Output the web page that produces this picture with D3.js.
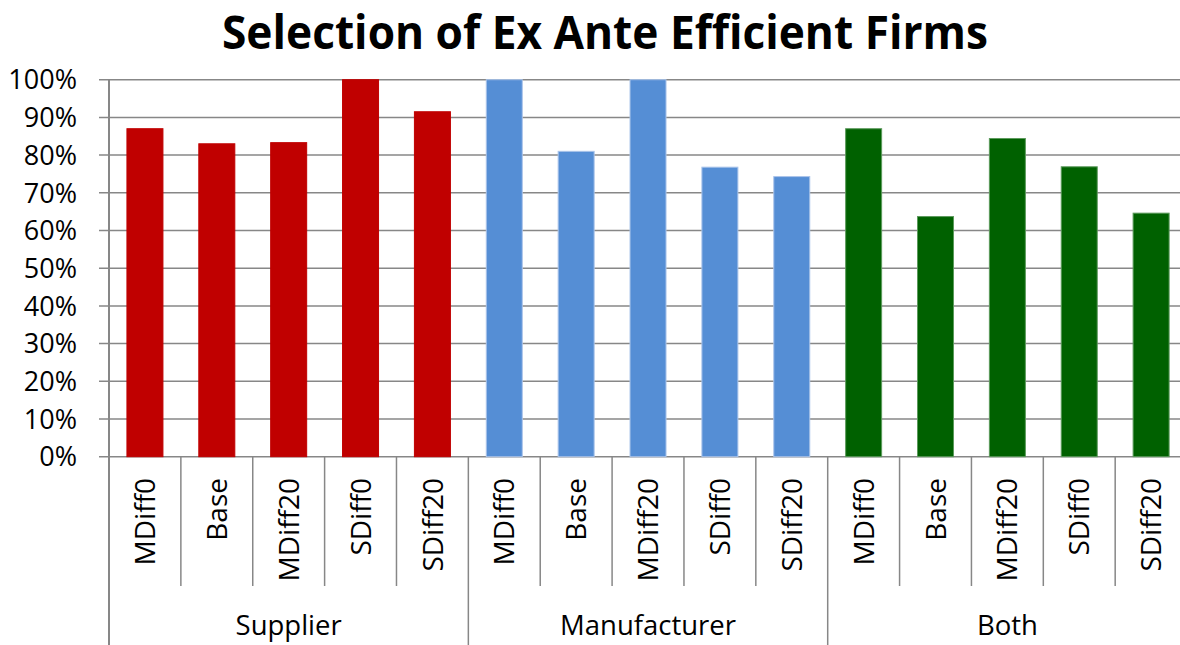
<!DOCTYPE html>
<html>
<head>
<meta charset="utf-8">
<script src="https://cdn.jsdelivr.net/npm/d3@7"></script>
<style>
  html, body { margin: 0; padding: 0; background: #fff; }
  svg { display: block; }
  text { font-family: "Open Sans", "Liberation Sans", sans-serif; fill: #000; }
</style>
</head>
<body>
<svg id="chart" width="1180" height="645"></svg>
<script>
const title = "Selection of Ex Ante Efficient Firms";
const groups = ["Supplier", "Manufacturer", "Both"];
const scenarios = ["MDiff0", "Base", "MDiff20", "SDiff0", "SDiff20"];
const supplier = [0.870, 0.830, 0.833, 1.000, 0.915];
const manufacturer = [1.000, 0.810, 1.000, 0.768, 0.743];
const both = [0.870, 0.637, 0.844, 0.769, 0.646];
const groupColors = ["#c00000", "#558ed5", "#006100"];
const groupStrokes = ["#c00000", "#aac4ea", "#5c9a5c"];
const yTicks = [0, 0.1, 0.2, 0.3, 0.4, 0.5, 0.6, 0.7, 0.8, 0.9, 1.0];

const seriesByGroup = [supplier, manufacturer, both];
const rows = [];
groups.forEach((g, gi) => {
  scenarios.forEach((s, si) => {
    rows.push({ key: g + "|" + s, group: g, gi, scenario: s, value: seriesByGroup[gi][si] });
  });
});

const svg = d3.select("#chart");
const plotLeft = 109, plotTop = 79.7, plotBottom = 456.7;
const step = 71.87;
const plotRight = plotLeft + step * rows.length;

const x = d3.scaleBand().domain(rows.map(d => d.key)).range([plotLeft, plotRight]).padding(0);
const y = d3.scaleLinear().domain([0, 1]).range([plotBottom, plotTop]);

// gridlines + tick marks
svg.append("g").selectAll("line").data(yTicks).join("line")
  .attr("x1", plotLeft - 10).attr("x2", 1180)
  .attr("y1", d => y(d)).attr("y2", d => y(d))
  .attr("stroke", "#878787").attr("stroke-width", 1.5);

// y tick labels
svg.append("g").selectAll("text").data(yTicks).join("text")
  .attr("x", 77).attr("y", d => y(d)).attr("dy", "0.36em")
  .attr("text-anchor", "end").style("font-size", "27px")
  .text(d => d3.format(".0%")(d));

// bars
const bw = 36;
svg.append("g").selectAll("rect").data(rows).join("rect")
  .attr("x", d => x(d.key) + x.bandwidth() / 2 - bw / 2)
  .attr("width", bw)
  .attr("y", d => y(d.value))
  .attr("height", d => y(0) - y(d.value))
  .attr("fill", d => groupColors[d.gi])
  .attr("stroke", d => groupStrokes[d.gi])
  .attr("stroke-width", 1);

// category separators (short)
const sepIdx = d3.range(1, rows.length).filter(i => i % scenarios.length !== 0);
svg.append("g").selectAll("line").data(sepIdx).join("line")
  .attr("x1", i => x(rows[i].key)).attr("x2", i => x(rows[i].key))
  .attr("y1", plotBottom).attr("y2", 586)
  .attr("stroke", "#878787").attr("stroke-width", 1.5);

// group separators (long)
const gsepIdx = d3.range(1, rows.length).filter(i => i % scenarios.length === 0);
svg.append("g").selectAll("line").data(gsepIdx).join("line")
  .attr("x1", i => x(rows[i].key)).attr("x2", i => x(rows[i].key))
  .attr("y1", plotBottom).attr("y2", 645)
  .attr("stroke", "#878787").attr("stroke-width", 1.5);

// left axis line
svg.append("line").attr("x1", plotLeft).attr("x2", plotLeft).attr("y1", plotTop).attr("y2", 645)
  .attr("stroke", "#878787").attr("stroke-width", 2);

// category labels rotated
svg.append("g").selectAll("text").data(rows).join("text")
  .attr("transform", d => `translate(${x(d.key) + x.bandwidth() / 2},478) rotate(-90)`)
  .attr("text-anchor", "end").attr("dy", "0.36em")
  .style("font-size", "28px")
  .text(d => d.scenario);

// group labels
svg.append("g").selectAll("text").data(groups).join("text")
  .attr("x", (g, gi) => {
    const a = x(rows[gi * scenarios.length].key);
    const b = x(rows[gi * scenarios.length + scenarios.length - 1].key) + x.bandwidth();
    return (a + b) / 2;
  })
  .attr("y", 635).attr("text-anchor", "middle").style("font-size", "27.5px")
  .text(g => g);

// title
const t = svg.append("text").attr("x", 605).attr("y", 49)
  .attr("text-anchor", "middle").style("font-size", "46px").style("font-weight", "bold")
  .text(title);
t.attr("textLength", 766).attr("lengthAdjust", "spacingAndGlyphs");
</script>
</body>
</html>
